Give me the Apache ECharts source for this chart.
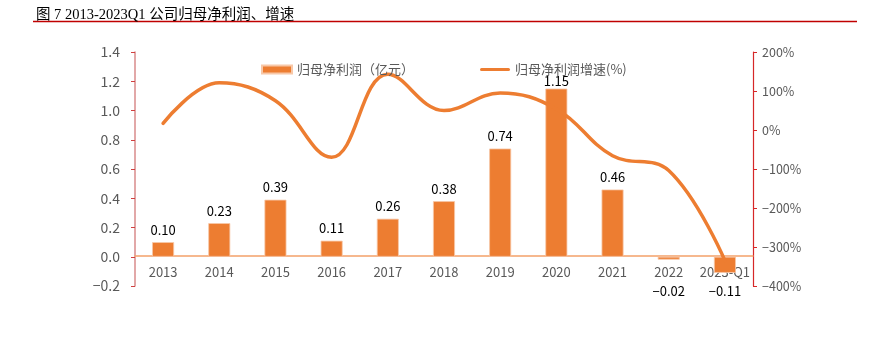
<!DOCTYPE html>
<html><head><meta charset="utf-8">
<script src="https://cdn.jsdelivr.net/npm/echarts@6/dist/echarts.min.js"></script>
<style>html,body{margin:0;padding:0;background:#fff}#c{width:873px;height:343px}</style>
</head><body><div id="c"></div>
<script>
var categories = ['2013','2014','2015','2016','2017','2018','2019','2020','2021','2022','2023-Q1'];
var profit = [0.10,0.23,0.39,0.11,0.26,0.38,0.74,1.15,0.46,-0.02,-0.11];
var growth = [17,121,75,-70,143,50,95,54,-66,-104,-335];
var leftTicks = {min:-0.2, max:1.4, interval:0.2};
var rightTicks = {min:-400, max:200, interval:100};

var chart = echarts.init(document.getElementById('c'));
var orange = '#ED7D31';
var barData = profit.map(function(v){
  var item = {value:v};
  if (v < 0) item.label = {position:'bottom', distance: v > -0.05 ? 25 : 12};
  if (v > 1) item.label = {distance: 1};
  return item;
});
chart.setOption({
  animation:false,
  title:{text:'图 7 2013-2023Q1 公司归母净利润、增速', left:31, top:3,
    textStyle:{fontSize:14.5, fontWeight:'normal', color:'#000', fontFamily:'Liberation Serif, Noto Sans CJK SC'}},
  graphic:[{type:'line', shape:{x1:33,y1:21.5,x2:857,y2:21.5}, style:{stroke:'#C00000', lineWidth:1.5}}],
  legend:{top:58, left:256, itemGap:66, itemWidth:30, itemHeight:8,
    textStyle:{fontSize:13, color:'#595959', fontFamily:'Noto Sans CJK SC'},
    data:[{name:'归母净利润（亿元）', icon:'path://M0,0H30V8H0Z'},
          {name:'归母净利润增速(%)', icon:'path://M1.5,0H28.5A1.5,1.5 0 0 1 28.5,3H1.5A1.5,1.5 0 0 1 1.5,0Z'}]},
  grid:{left:135, right:120, top:52, bottom:57},
  xAxis:{type:'category', data:categories, offset:-30,
    axisLine:{onZero:false, lineStyle:{color:'#F4A16A', width:1.5}},
    axisTick:{lineStyle:{color:'#F4A16A'}, length:4},
    axisLabel:{interval:0, color:'#595959', fontSize:13, margin:10, fontFamily:'Noto Sans CJK SC'}},
  yAxis:[{type:'value', min:leftTicks.min, max:leftTicks.max, interval:leftTicks.interval,
      axisLine:{show:true, lineStyle:{color:'#D98B8B', width:1.5}},
      axisTick:{show:true, length:4, lineStyle:{color:'#D04040'}},
      splitLine:{show:false},
      axisLabel:{color:'#595959', fontSize:14, margin:15, fontFamily:'Noto Sans CJK SC',
        formatter:function(v){return (Math.round(v*10)/10).toFixed(1).replace('-','−');}}},
    {type:'value', min:rightTicks.min, max:rightTicks.max, interval:rightTicks.interval,
      axisLine:{show:true, lineStyle:{color:'#D62728', width:1.2}},
      axisTick:{show:true, length:4, lineStyle:{color:'#D62728'}},
      splitLine:{show:false},
      axisLabel:{color:'#595959', fontSize:12.5, margin:9, fontFamily:'Noto Sans CJK SC',
        formatter:function(v){return String(v).replace('-','−')+'%';}}}],
  series:[
    {name:'归母净利润（亿元）', type:'bar', data:barData, barWidth:22,
      itemStyle:{color:orange, borderColor:'#F8C8A8', borderWidth:0.8},
      label:{show:true, position:'top', distance:6, color:'#000', fontSize:13, fontFamily:'Noto Sans CJK SC',
        formatter:function(p){return p.value.toFixed(2).replace('-','−');}}},
    {name:'归母净利润增速(%)', type:'line', yAxisIndex:1, data:growth, smooth:0.4,
      showSymbol:false, symbol:'none', lineStyle:{color:orange, width:3.5, cap:'round'}, itemStyle:{color:orange}, z:3}
  ]
});
</script></body></html>
